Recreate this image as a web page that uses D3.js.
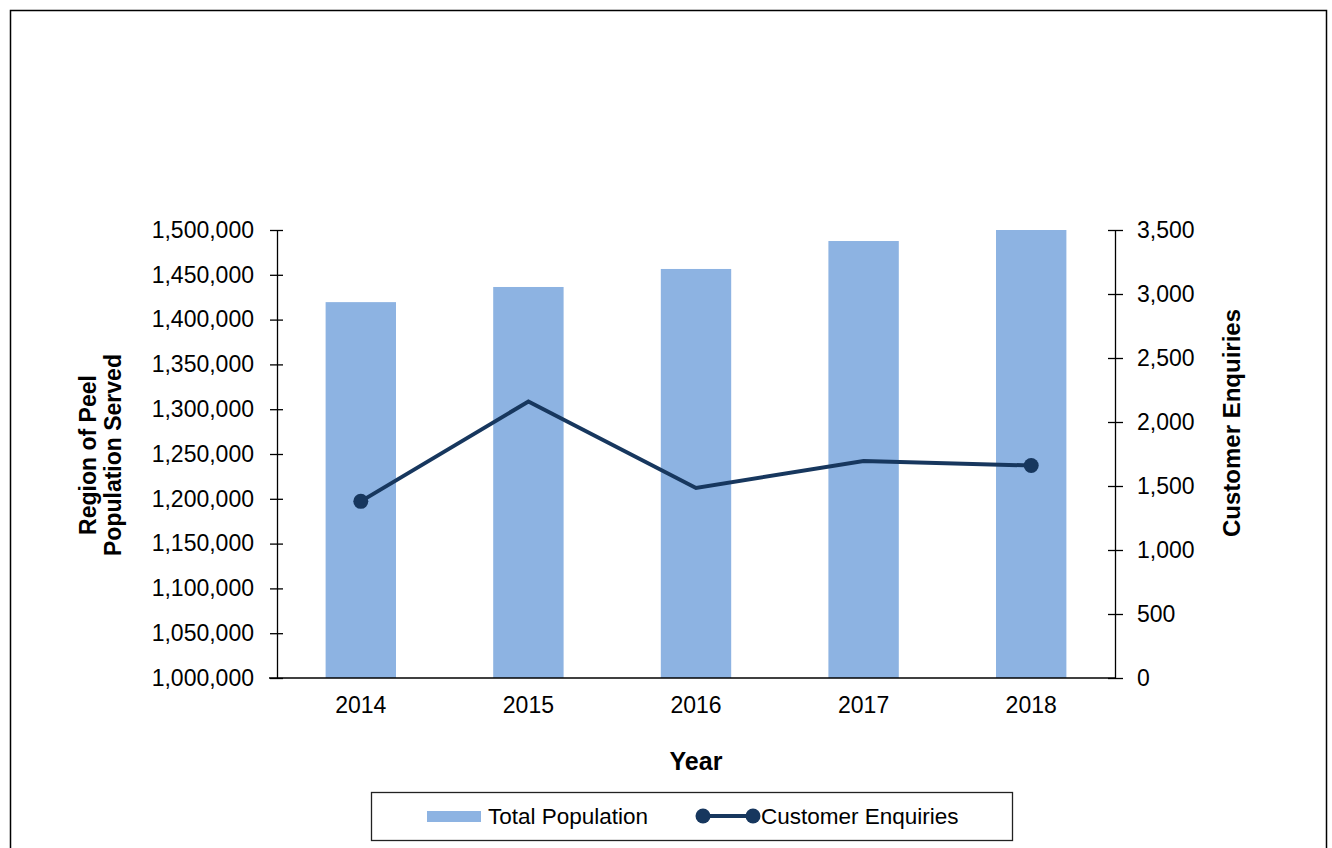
<!DOCTYPE html>
<html>
<head>
<meta charset="utf-8">
<script src="https://cdn.jsdelivr.net/npm/d3@7"></script>
<style>
  body { margin: 0; background: #fff; }
  svg { display: block; font-family: "Liberation Sans", Arial, sans-serif; }
  .axis path, .axis line { stroke: #000; stroke-width: 1.3; }
  .axis text { font-size: 23px; fill: #000; }
</style>
</head>
<body>
<div id="chart"></div>
<script>
// chart data
var years = ["2014", "2015", "2016", "2017", "2018"];
var population = [1419500, 1436400, 1456500, 1487700, 1500000];
var enquiries = [1380, 2160, 1485, 1695, 1660];
var markedYears = ["2014", "2018"];   // only the end points carry markers
var popTicks = [1000000, 1050000, 1100000, 1150000, 1200000, 1250000, 1300000, 1350000, 1400000, 1450000, 1500000];
var enqTicks = [0, 500, 1000, 1500, 2000, 2500, 3000, 3500];

(function () {
var barColor = "#8db3e2",
    lineColor = "#17375e";

var W = 1332, H = 848;
var pLeft = 277, pRight = 1115, pTop = 230, pBottom = 678;

var svg = d3.select("#chart").append("svg")
    .attr("width", W)
    .attr("height", H);

// outer frame
svg.append("rect")
    .attr("x", 10.5).attr("y", 10.5)
    .attr("width", 1316).attr("height", 900)
    .attr("fill", "none")
    .attr("stroke", "#000")
    .attr("stroke-width", 1.5);

var x = d3.scaleBand()
    .domain(years)
    .range([pLeft, pRight])
    .paddingInner(0.58)
    .paddingOuter(0.29);

var yL = d3.scaleLinear().domain([1000000, 1500000]).range([pBottom, pTop]);
var yR = d3.scaleLinear().domain([0, 3500]).range([pBottom, pTop]);

// BARS
svg.selectAll(".bar")
    .data(years)
    .enter()
    .append("rect")
    .attr("class", "bar")
    .attr("x", function (d) { return x(d); })
    .attr("width", x.bandwidth())
    .attr("y", function (d, i) { return yL(population[i]); })
    .attr("height", function (d, i) { return pBottom - yL(population[i]); })
    .attr("fill", barColor);

// AXES
var axL = svg.append("g")
    .attr("class", "axis")
    .attr("transform", "translate(" + pLeft + ",0)")
    .call(d3.axisLeft(yL).tickValues(popTicks).tickFormat(d3.format(",")).tickSize(7).tickPadding(16).tickSizeOuter(0));
axL.selectAll(".tick line").attr("x1", 6);

var axR = svg.append("g")
    .attr("class", "axis")
    .attr("transform", "translate(" + pRight + ",0)")
    .call(d3.axisRight(yR).tickValues(enqTicks).tickFormat(d3.format(",")).tickSize(8).tickPadding(14).tickSizeOuter(0));
axR.selectAll(".tick line").attr("x1", -7);

var axB = svg.append("g")
    .attr("class", "axis")
    .attr("transform", "translate(0," + pBottom + ")")
    .call(d3.axisBottom(x).tickSize(0).tickPadding(19));
axB.select(".domain").attr("d", "M" + (pLeft - 8) + ",0H" + pRight);

// LINE
var line = d3.line()
    .x(function (d, i) { return x(years[i]) + x.bandwidth() / 2; })
    .y(function (d) { return yR(d); });

svg.append("path")
    .datum(enquiries)
    .attr("d", line)
    .attr("fill", "none")
    .attr("stroke", lineColor)
    .attr("stroke-width", 4)
    .attr("stroke-linejoin", "miter");

svg.selectAll(".dot")
    .data(years.filter(function (d) { return markedYears.indexOf(d) >= 0; }))
    .enter()
    .append("circle")
    .attr("class", "dot")
    .attr("cx", function (d) { return x(d) + x.bandwidth() / 2; })
    .attr("cy", function (d) { return yR(enquiries[years.indexOf(d)]); })
    .attr("r", 7.5)
    .attr("fill", lineColor);

// AXIS TITLES
svg.append("text")
    .attr("x", (pLeft + pRight) / 2)
    .attr("y", 770)
    .attr("text-anchor", "middle")
    .style("font-size", "25px")
    .style("font-weight", "bold")
    .text("Year");

var lt = svg.append("text")
    .attr("transform", "translate(96,455) rotate(-90)")
    .attr("text-anchor", "middle")
    .style("font-size", "23px")
    .style("font-weight", "bold");
lt.append("tspan").attr("x", 0).attr("dy", 0).text("Region of Peel");
lt.append("tspan").attr("x", 0).attr("dy", 25).text("Population Served");

svg.append("text")
    .attr("transform", "translate(1240,423) rotate(-90)")
    .attr("text-anchor", "middle")
    .style("font-size", "24px")
    .style("font-weight", "bold")
    .text("Customer Enquiries");

// LEGEND
var lg = svg.append("g");
lg.append("rect")
    .attr("x", 371.5).attr("y", 792.5)
    .attr("width", 641).attr("height", 48)
    .attr("fill", "#fff")
    .attr("stroke", "#222")
    .attr("stroke-width", 1.3);
lg.append("rect")
    .attr("x", 427).attr("y", 811)
    .attr("width", 54).attr("height", 11)
    .attr("fill", barColor);
lg.append("text")
    .attr("x", 488).attr("y", 824)
    .style("font-size", "22.5px")
    .text("Total Population");
lg.append("line")
    .attr("x1", 703).attr("x2", 753)
    .attr("y1", 816).attr("y2", 816)
    .attr("stroke", lineColor)
    .attr("stroke-width", 4);
lg.selectAll(".ldot")
    .data([703, 753])
    .enter()
    .append("circle")
    .attr("cx", function (d) { return d; })
    .attr("cy", 816)
    .attr("r", 7.5)
    .attr("fill", lineColor);
lg.append("text")
    .attr("x", 761).attr("y", 824)
    .style("font-size", "22.5px")
    .text("Customer Enquiries");
})();
</script>
</body>
</html>
